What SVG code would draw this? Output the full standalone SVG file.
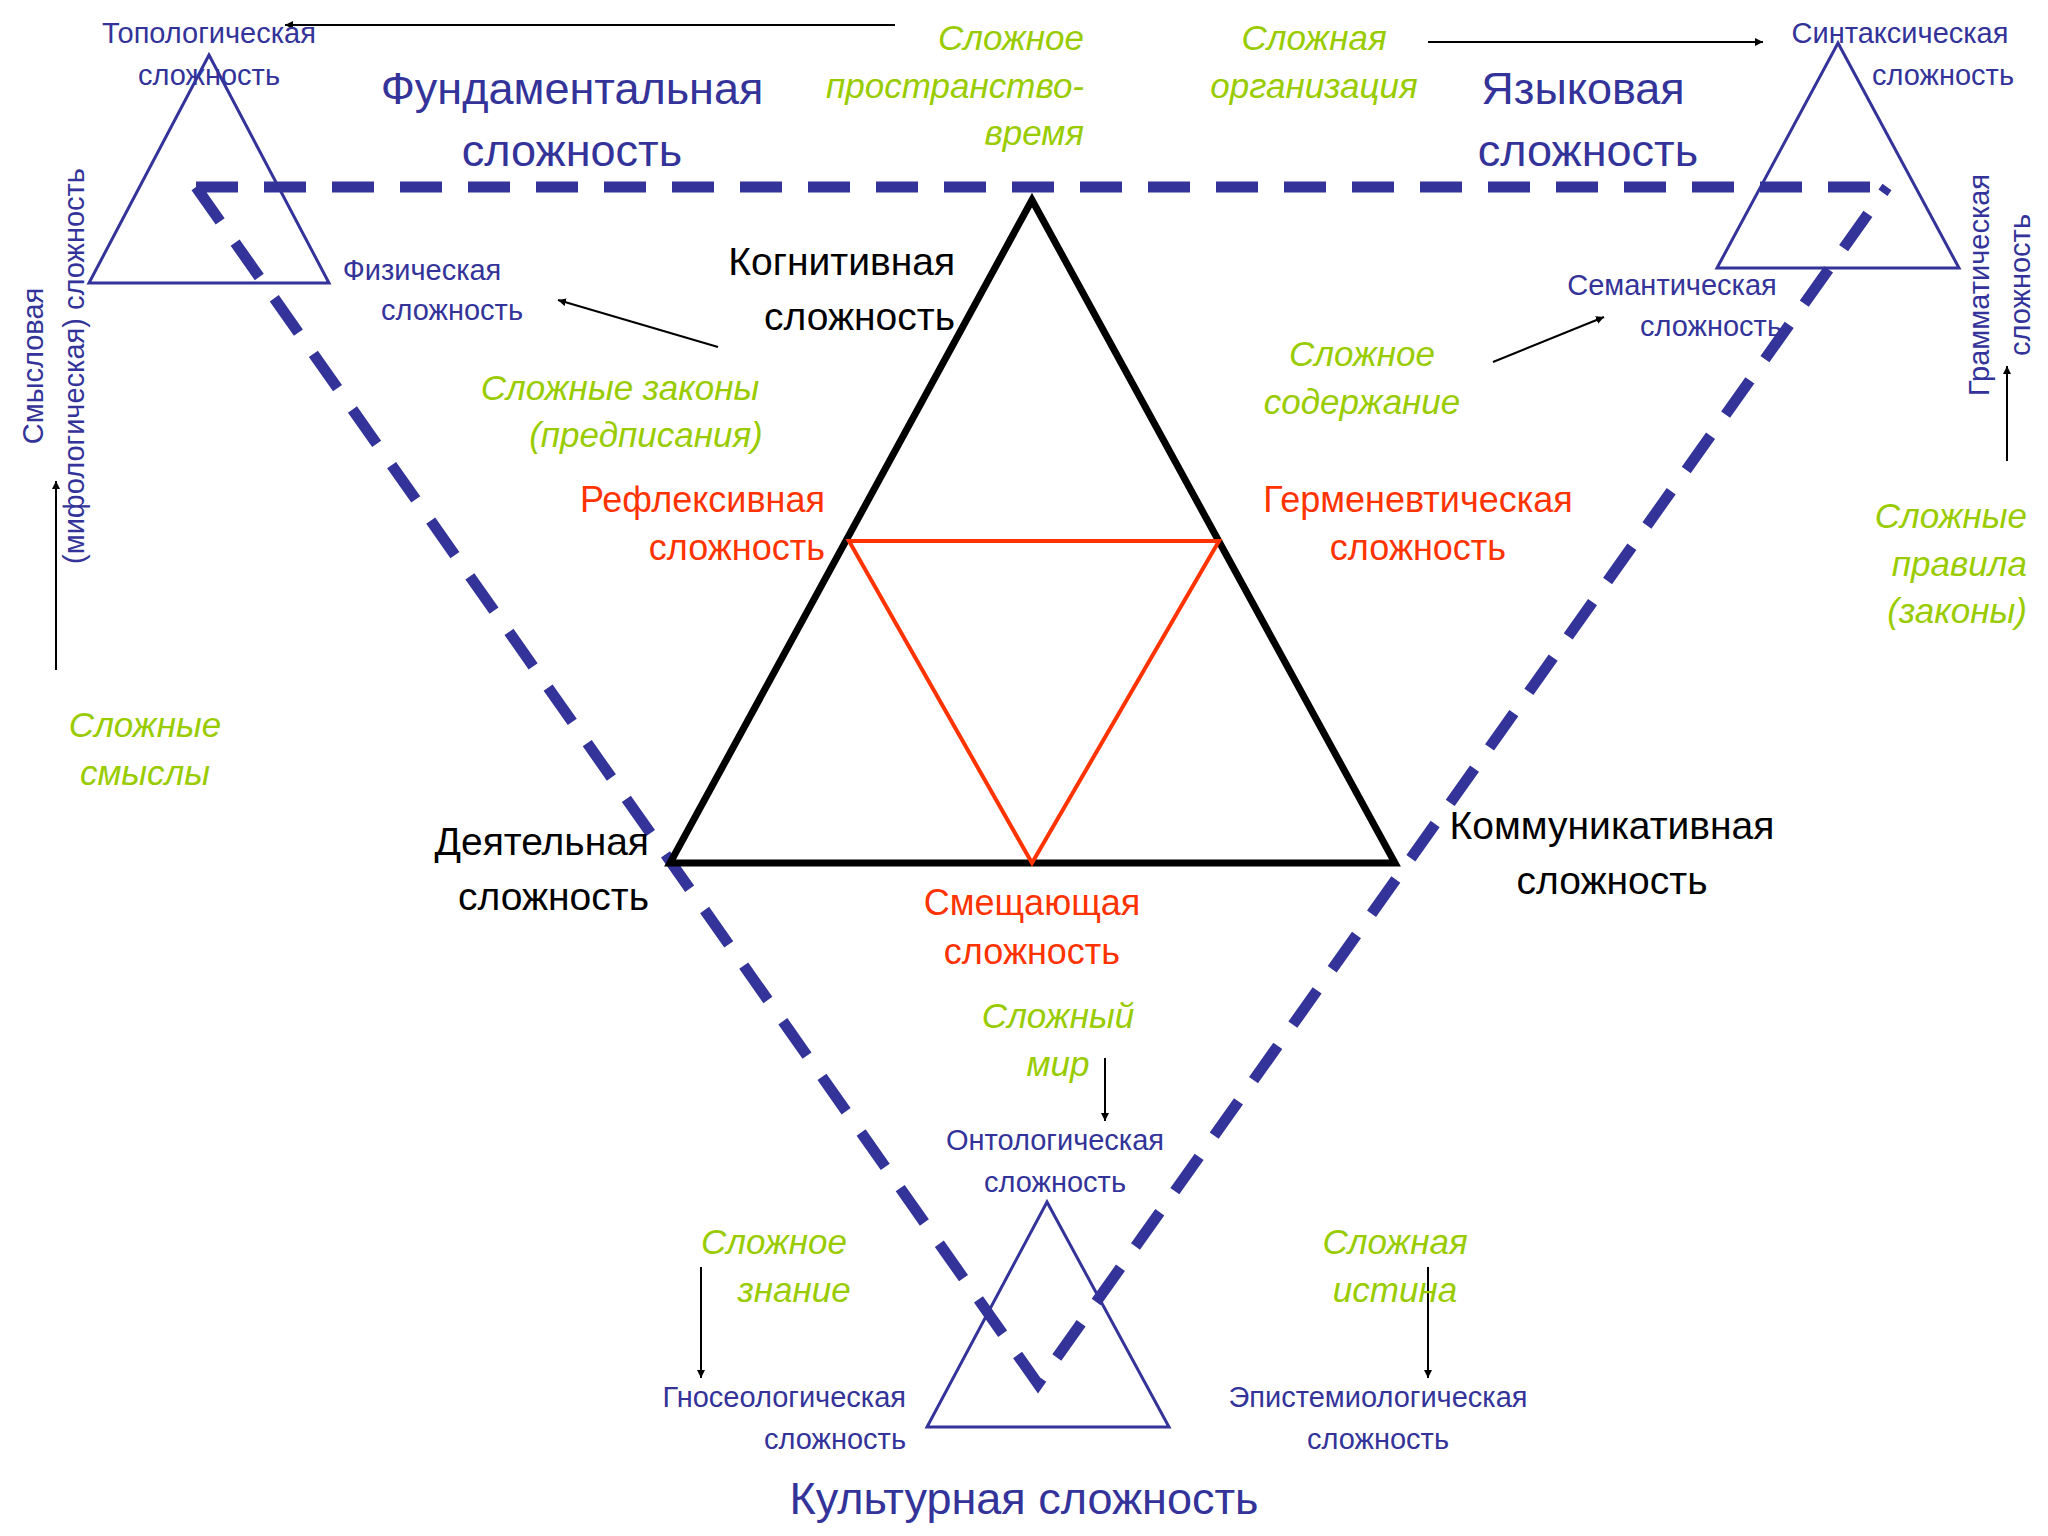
<svg xmlns="http://www.w3.org/2000/svg" width="2048" height="1536" viewBox="0 0 2048 1536">
<style>
text{font-family:"Liberation Sans",Arial,sans-serif;dominant-baseline:central;text-anchor:middle}
.b{fill:#333399;font-size:29px}
.B{fill:#333399;font-size:45px}
.g{fill:#99cc00;font-size:35px;font-style:italic}
.k{fill:#000;font-size:39px}
.r{fill:#ff3300;font-size:36px}
.e{text-anchor:end}
.st{fill:none;stroke:#333399;stroke-width:3}
.ar{stroke:#000;stroke-width:2;fill:none;marker-end:url(#a)}
</style>
<defs><marker id="a" viewBox="0 0 10 10" refX="10" refY="5" markerWidth="8" markerHeight="8" markerUnits="userSpaceOnUse" orient="auto"><path d="M0,0L10,5L0,10z" fill="#000"/></marker></defs>
<rect width="2048" height="1536" fill="#fff"/>
<g id="connectors">
<path d="M196,187H1887M196,187L1038,1384L1887,187" fill="none" stroke="#333399" stroke-width="11" stroke-dasharray="42,26"/>
<line class="ar" x1="895" y1="25" x2="285" y2="25"/>
<line class="ar" x1="1428" y1="42" x2="1763" y2="42"/>
<line class="ar" x1="1493" y1="362" x2="1604" y2="317"/>
<line class="ar" x1="718" y1="347" x2="558" y2="300"/>
<line class="ar" x1="1105" y1="1058" x2="1105" y2="1121"/>
<line class="ar" x1="701" y1="1267" x2="701" y2="1378"/>
<line class="ar" x1="1428" y1="1267" x2="1428" y2="1378"/>
<line class="ar" x1="56" y1="670" x2="56" y2="481"/>
<line class="ar" x1="2007" y1="461" x2="2007" y2="366"/>
</g>
<g id="core"><polygon points="1032,200 670,863 1395,863" fill="none" stroke="#000" stroke-width="7"/>
<polygon points="849,541 1219,541 1032,863" fill="none" stroke="#ff3300" stroke-width="4"/></g>
<g id="tl"><polygon class="st" points="209,55 89,283 329,283"/></g>
<g id="tr"><polygon class="st" points="1838,43 1717,268 1959,268"/></g>
<g id="bt"><polygon class="st" points="1047,1202 927,1427 1169,1427"/></g>
<g id="labels">
<text class="b" x="209" y="33">Топологическая</text><text class="b" x="209" y="75">сложность</text>
<text class="b" x="422" y="270">Физическая</text><text class="b" x="452" y="310">сложность</text>
<text class="B" x="572" y="88">Фундаментальная</text><text class="B" x="572" y="150">сложность</text>
<text class="g e" x="1084" y="37">Сложное</text><text class="g e" x="1084" y="85">пространство-</text><text class="g e" x="1084" y="132">время</text>
<text class="g" x="1314" y="37">Сложная</text><text class="g" x="1314" y="85">организация</text>
<text class="B" x="1583" y="88">Языковая</text><text class="B" x="1588" y="150">сложность</text>
<text class="b" x="1900" y="33">Синтаксическая</text><text class="b" x="1943" y="75">сложность</text>
<text class="k e" x="955" y="261">Когнитивная</text><text class="k e" x="955" y="316">сложность</text>
<text class="b" x="1672" y="285">Семантическая</text><text class="b" x="1711" y="326">сложность</text>
<text class="g" x="1362" y="353">Сложное</text><text class="g" x="1362" y="401">содержание</text>
<text class="g" x="620" y="387">Сложные законы</text><text class="g" x="646" y="434">(предписания)</text>
<text class="r e" x="825" y="499">Рефлексивная</text><text class="r e" x="825" y="547">сложность</text>
<text class="r" x="1418" y="499">Герменевтическая</text><text class="r" x="1418" y="547">сложность</text>
<text class="k e" x="649" y="841">Деятельная</text><text class="k e" x="649" y="896">сложность</text>
<text class="k" x="1612" y="825">Коммуникативная</text><text class="k" x="1612" y="880">сложность</text>
<text class="r" x="1032" y="902">Смещающая</text><text class="r" x="1032" y="951">сложность</text>
<text class="g" x="1058" y="1015">Сложный</text><text class="g" x="1058" y="1063">мир</text>
<text class="b" x="1055" y="1140">Онтологическая</text><text class="b" x="1055" y="1182">сложность</text>
<text class="g" x="774" y="1241">Сложное</text><text class="g" x="794" y="1289">знание</text>
<text class="b e" x="906" y="1397">Гносеологическая</text><text class="b e" x="906" y="1439">сложность</text>
<text class="g" x="1395" y="1241">Сложная</text><text class="g" x="1395" y="1289">истина</text>
<text class="b" x="1378" y="1397">Эпистемиологическая</text><text class="b" x="1378" y="1439">сложность</text>
<text class="B" x="1024" y="1498">Культурная сложность</text>
<text class="b" transform="translate(33,366) rotate(-90)">Смысловая</text>
<text class="b" transform="translate(74,366) rotate(-90)">(мифологическая) сложность</text>
<text class="g" x="145" y="724">Сложные</text><text class="g" x="145" y="772">смыслы</text>
<text class="b" transform="translate(1979,285) rotate(-90)">Грамматическая</text>
<text class="b" transform="translate(2020,285) rotate(-90)">сложность</text>
<text class="g e" x="2027" y="515">Сложные</text><text class="g e" x="2027" y="563">правила</text><text class="g e" x="2027" y="610">(законы)</text>
</g>
</svg>
